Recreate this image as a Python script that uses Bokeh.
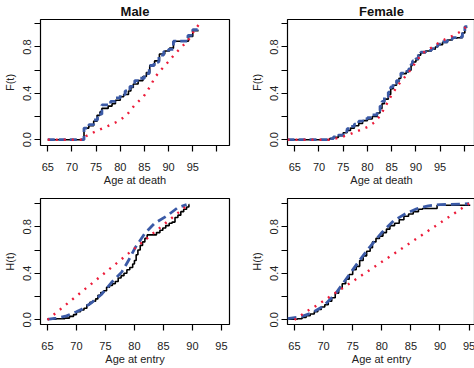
from bokeh.plotting import figure
from bokeh.layouts import gridplot
from bokeh.models import FixedTicker, Range1d
from bokeh.embed import file_html
from bokeh.resources import INLINE

# ---------------- data ----------------
# Top-left: Male, F(t) vs age at death
male_death_black_x = [65.0, 72.5, 73.5, 74.5, 75.2, 75.8, 76.2, 77.5, 78.3, 79.0, 80.0, 80.7, 81.7, 82.2, 82.7,
                      83.7, 84.7, 85.4, 86.1, 87.1, 88.1, 89.2, 90.2, 91.0, 94.1, 95.0, 96.2]
male_death_black_y = [0.0, 0.10, 0.12, 0.16, 0.21, 0.24, 0.27, 0.29, 0.31, 0.34, 0.37, 0.39, 0.42, 0.45, 0.48,
                      0.51, 0.545, 0.58, 0.64, 0.68, 0.74, 0.765, 0.79, 0.85, 0.89, 0.94, 0.94]
male_death_blue_x = [65.0, 72.5, 73.5, 74.5, 75.3, 76.2, 78.0, 79.0, 80.0, 81.0, 82.0, 83.0, 84.0, 85.0, 86.0,
                     87.0, 88.0, 89.0, 90.0, 91.0, 94.0, 95.0, 96.0]
male_death_blue_y = [0.0, 0.10, 0.13, 0.17, 0.22, 0.30, 0.33, 0.36, 0.39, 0.42, 0.46, 0.51, 0.53, 0.57, 0.64,
                     0.67, 0.73, 0.76, 0.78, 0.85, 0.90, 0.95, 0.97]
male_death_red_x = [65.0, 72.5, 72.9, 74.8, 77.5, 79.6, 81.3, 83.0, 84.8, 86.2, 87.2, 88.6, 89.9, 91.3, 92.7,
                    94.1, 95.3, 96.2]
male_death_red_y = [0.0, 0.0, 0.03, 0.07, 0.12, 0.16, 0.21, 0.30, 0.37, 0.46, 0.54, 0.61, 0.67, 0.74, 0.80,
                    0.86, 0.94, 0.99]

# Top-right: Female, F(t) vs age at death
female_death_black_x = [63.5, 72.2, 73.0, 74.0, 75.0, 75.8, 76.5, 77.3, 78.2, 79.0, 80.0, 81.0, 82.0, 82.6, 83.0,
                        83.5, 84.3, 84.8, 85.3, 86.0, 86.5, 86.9, 88.0, 88.5, 89.0, 89.3, 90.0, 90.5, 91.0, 92.0,
                        93.2, 94.0, 94.5, 95.5, 96.5, 97.5, 98.5, 99.6, 100.1, 100.6]
female_death_black_y = [0.0, 0.01, 0.02, 0.035, 0.06, 0.08, 0.10, 0.12, 0.14, 0.165, 0.18, 0.20, 0.23, 0.27, 0.31,
                        0.35, 0.39, 0.44, 0.47, 0.50, 0.53, 0.57, 0.585, 0.60, 0.64, 0.67, 0.69, 0.73, 0.75, 0.765,
                        0.78, 0.80, 0.82, 0.84, 0.86, 0.875, 0.88, 0.92, 0.97, 0.97]
female_death_blue_x = female_death_black_x
female_death_blue_y = [0.0, 0.01, 0.025, 0.04, 0.07, 0.095, 0.115, 0.135, 0.16, 0.18, 0.19, 0.215, 0.25, 0.29, 0.33,
                       0.37, 0.41, 0.455, 0.485, 0.51, 0.545, 0.575, 0.59, 0.61, 0.65, 0.68, 0.70, 0.735, 0.755,
                       0.77, 0.785, 0.805, 0.825, 0.845, 0.865, 0.88, 0.885, 0.925, 0.975, 0.975]
female_death_red_x = [63.5, 72.2, 74.0, 76.0, 78.0, 80.0, 81.5, 82.5, 83.5, 84.5, 85.5, 86.5, 87.5, 88.5, 89.5,
                      90.5, 91.5, 92.5, 93.5, 94.5, 95.5, 96.5, 97.5, 98.5, 99.5, 100.3]
female_death_red_y = [0.0, 0.0, 0.015, 0.04, 0.075, 0.11, 0.15, 0.20, 0.27, 0.35, 0.42, 0.48, 0.53, 0.58, 0.64,
                      0.70, 0.75, 0.78, 0.80, 0.83, 0.855, 0.875, 0.895, 0.915, 0.94, 0.97]

# Bottom-left: Male, H(t) vs age at entry
male_entry_black_x = [65.0, 66.5, 68.0, 68.8, 69.5, 70.0, 70.7, 71.3, 71.8, 72.3, 72.8, 73.3, 73.7, 74.2, 74.7,
                      75.2, 75.7, 76.2, 76.7, 77.2, 77.7, 78.2, 78.7, 79.2, 79.7, 80.0, 80.3, 80.6, 81.0, 81.4,
                      81.8, 82.2, 83.8, 84.4, 84.9, 85.4, 86.0, 86.5, 87.0, 87.5, 88.0, 88.5, 89.0, 89.4, 89.5]
male_entry_black_y = [0.005, 0.01, 0.015, 0.03, 0.045, 0.07, 0.085, 0.10, 0.13, 0.15, 0.16, 0.18, 0.21, 0.235, 0.25,
                      0.28, 0.295, 0.31, 0.33, 0.36, 0.38, 0.40, 0.43, 0.45, 0.48, 0.51, 0.56, 0.60, 0.64, 0.67,
                      0.70, 0.73, 0.75, 0.77, 0.79, 0.81, 0.83, 0.84, 0.88, 0.90, 0.93, 0.95, 0.97, 0.99, 0.99]
male_entry_blue_x = [65.0, 66.5, 68.3, 70.0, 70.9, 72.6, 74.3, 76.0, 77.8, 78.9, 80.1, 81.8, 83.5, 85.8, 87.5, 89.0]
male_entry_blue_y = [0.005, 0.015, 0.034, 0.07, 0.09, 0.147, 0.218, 0.318, 0.41, 0.503, 0.617, 0.744, 0.83, 0.90,
                     0.966, 0.99]
male_entry_red_x = [65.0, 89.5]
male_entry_red_y = [0.0, 1.0]

# Bottom-right: Female, H(t) vs age at entry
female_entry_black_x = [63.8, 65.5, 66.3, 67.0, 67.7, 68.4, 69.0, 69.6, 70.2, 70.8, 71.4, 72.0, 72.6, 73.2, 73.8,
                        74.4, 75.0, 75.6, 76.2, 76.8, 77.4, 78.0, 78.4, 79.0, 79.6, 80.2, 80.8, 81.4, 82.2, 83.0,
                        83.8, 84.6, 85.4, 86.3, 87.0, 89.5, 95.2]
female_entry_black_y = [0.005, 0.01, 0.02, 0.035, 0.05, 0.07, 0.09, 0.11, 0.13, 0.16, 0.19, 0.23, 0.27, 0.31, 0.35,
                        0.39, 0.43, 0.46, 0.51, 0.55, 0.59, 0.62, 0.67, 0.70, 0.72, 0.75, 0.78, 0.81, 0.83, 0.86,
                        0.89, 0.91, 0.93, 0.95, 0.957, 0.985, 0.985]
female_entry_blue_x = [63.8, 66.0, 68.0, 70.0, 72.0, 74.0, 76.0, 78.0, 80.0, 82.0, 84.0, 86.0, 88.0, 90.0, 95.0]
female_entry_blue_y = [0.01, 0.025, 0.06, 0.12, 0.22, 0.36, 0.50, 0.63, 0.75, 0.85, 0.91, 0.955, 0.98, 0.99, 0.998]
female_entry_red_x = [65.0, 67.0, 68.7, 95.0]
female_entry_red_y = [0.0, 0.07, 0.12, 1.0]

# axis ticks / labels
x_ticks_death = [65, 70, 75, 80, 85, 90, 95, 100]
x_labels_death = ["65", "70", "75", "80", "85", "90", "95", ""]
x_ticks_entry = [65, 70, 75, 80, 85, 90, 95]
x_labels_entry = ["65", "70", "75", "80", "85", "90", "95"]
y_ticks = [0.0, 0.2, 0.4, 0.6, 0.8, 1.0]
y_labels = ["0.0", "", "0.4", "", "0.8", ""]

BLACK = "#000000"
BLUE = "#3b5aa6"
RED = "#ec1c3a"
FONT = "Liberation Sans"


def make_panel(title, xlab, ylab, xr, yr, xt, xl, black, blue, red, blue_step,
               fw, right_border, top):
    p = figure(title=title, output_backend="svg", toolbar_location=None,
               frame_width=fw, frame_height=126,
               x_range=Range1d(*xr), y_range=Range1d(*yr),
               min_border_left=39, min_border_right=right_border,
               min_border_top=top, min_border_bottom=0)
    if title is not None:
        p.title.align = "center"
        p.title.text_font = FONT
        p.title.text_font_style = "bold"
        p.title.text_font_size = "13px"
        p.title.text_color = "#111111"
        p.title.standoff = 2
        p.title.offset = 0
    p.background_fill_color = "white"
    p.border_fill_color = "white"
    p.outline_line_color = "black"
    p.outline_line_width = 1.2
    p.xgrid.visible = False
    p.ygrid.visible = False

    for ax, ticks, labels in ((p.xaxis[0], xt, xl), (p.yaxis[0], y_ticks, y_labels)):
        ax.ticker = FixedTicker(ticks=ticks)
        ax.major_label_overrides = {t: l for t, l in zip(ticks, labels)}
        ax.axis_line_color = None
        ax.major_tick_out = 6
        ax.major_tick_in = 0
        ax.major_tick_line_width = 1.2
        ax.major_tick_line_color = "black"
        ax.minor_tick_line_color = None
        ax.major_label_text_font = FONT
        ax.major_label_text_font_size = "11px"
        ax.major_label_text_color = "#222222"
        ax.axis_label_text_font = FONT
        ax.axis_label_text_font_size = "11px"
        ax.axis_label_text_font_style = "normal"
        ax.axis_label_text_color = "#222222"
    p.xaxis.axis_label = xlab
    p.yaxis.axis_label = ylab
    p.xaxis.major_label_standoff = 11
    p.xaxis.axis_label_standoff = 0
    p.yaxis.major_label_standoff = 3
    p.yaxis.axis_label_standoff = 5
    p.yaxis.major_label_orientation = "vertical"

    p.step(black[0], black[1], mode="after", line_color=BLACK, line_width=1.6)
    if blue_step:
        p.step(blue[0], blue[1], mode="after", line_color=BLUE, line_width=2.8, line_dash="7 4")
    else:
        p.line(blue[0], blue[1], line_color=BLUE, line_width=2.8, line_dash="9 5")
    p.line(red[0], red[1], line_color=RED, line_width=2.4, line_dash="2 6")
    return p


p1 = make_panel("Male", "Age at death", "F(t)", (63.5, 102.6), (-0.05, 1.037), x_ticks_death, x_labels_death,
                (male_death_black_x, male_death_black_y), (male_death_blue_x, male_death_blue_y),
                (male_death_red_x, male_death_red_y), True, 189, 18, 19)
p2 = make_panel("Female", "Age at death", "F(t)", (63.5, 102.3), (-0.05, 1.037), x_ticks_death, x_labels_death,
                (female_death_black_x, female_death_black_y), (female_death_blue_x, female_death_blue_y),
                (female_death_red_x, female_death_red_y), True, 188, 0, 19)
p3 = make_panel(None, "Age at entry", "H(t)", (63.8, 96.4), (-0.04, 1.043), x_ticks_entry, x_labels_entry,
                (male_entry_black_x, male_entry_black_y), (male_entry_blue_x, male_entry_blue_y),
                (male_entry_red_x, male_entry_red_y), False, 189, 18, 10)
p4 = make_panel(None, "Age at entry", "H(t)", (63.8, 96.1), (-0.04, 1.043), x_ticks_entry, x_labels_entry,
                (female_entry_black_x, female_entry_black_y), (female_entry_blue_x, female_entry_blue_y),
                (female_entry_red_x, female_entry_red_y), False, 188, 0, 10)

grid = gridplot([[p1, p2], [p3, p4]], toolbar_location=None)

open("out.html", "w").write(file_html(grid, INLINE))
